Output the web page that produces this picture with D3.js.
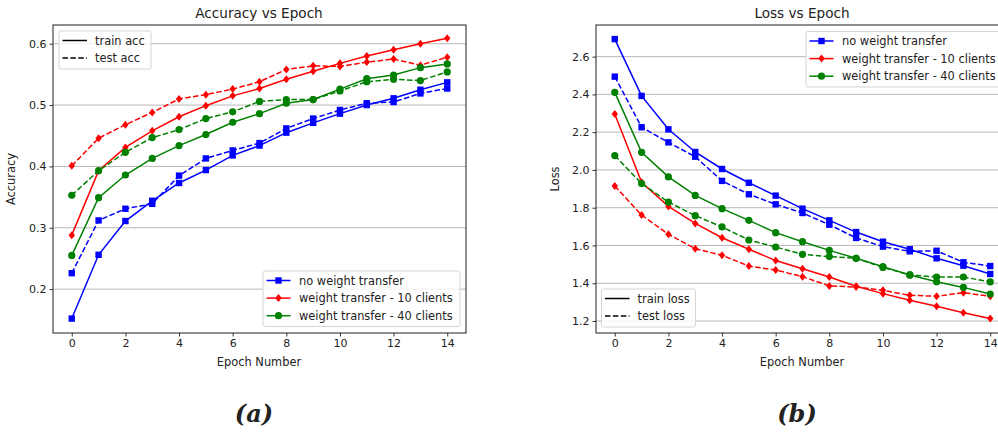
<!DOCTYPE html>
<html>
<head>
<meta charset="utf-8">
<script src="https://cdn.jsdelivr.net/npm/d3@7"></script>
<style>
  body { margin: 0; background: #fff; }
  text { font-family: "DejaVu Sans", sans-serif; fill: #222; }
</style>
</head>
<body>
<div id="chart"></div>
<script>
var epochs = [0, 1, 2, 3, 4, 5, 6, 7, 8, 9, 10, 11, 12, 13, 14];
var seriesNames = ["no weight transfer", "weight transfer - 10 clients", "weight transfer - 40 clients"];
var seriesColors = ["#0000ff", "#ff0000", "#008000"];
var seriesMarkers = ["square", "diamond", "circle"];

// accuracy, left panel
var accTrainNo = [0.152, 0.256, 0.311, 0.344, 0.373, 0.394, 0.418, 0.434, 0.455, 0.471, 0.486, 0.500, 0.511, 0.525, 0.537];
var accTestNo = [0.226, 0.312, 0.331, 0.339, 0.385, 0.413, 0.426, 0.438, 0.462, 0.478, 0.492, 0.503, 0.505, 0.519, 0.527];
var accTrain10 = [0.288, 0.393, 0.431, 0.458, 0.481, 0.499, 0.515, 0.527, 0.542, 0.555, 0.568, 0.580, 0.590, 0.600, 0.609];
var accTest10 = [0.401, 0.446, 0.468, 0.488, 0.510, 0.517, 0.526, 0.538, 0.558, 0.564, 0.563, 0.570, 0.575, 0.565, 0.578];
var accTrain40 = [0.255, 0.349, 0.386, 0.413, 0.434, 0.452, 0.472, 0.486, 0.503, 0.509, 0.526, 0.543, 0.549, 0.561, 0.567];
var accTest40 = [0.353, 0.393, 0.423, 0.447, 0.460, 0.478, 0.489, 0.506, 0.509, 0.509, 0.523, 0.538, 0.542, 0.540, 0.554];
var accTicks = [0.2, 0.3, 0.4, 0.5, 0.6];

// loss, right panel
var lossTrainNo = [2.693, 2.392, 2.215, 2.095, 2.005, 1.932, 1.864, 1.795, 1.733, 1.671, 1.620, 1.580, 1.532, 1.493, 1.449];
var lossTestNo = [2.494, 2.226, 2.146, 2.070, 1.942, 1.871, 1.818, 1.772, 1.710, 1.640, 1.594, 1.569, 1.572, 1.511, 1.491];
var lossTrain10 = [2.296, 1.935, 1.807, 1.717, 1.641, 1.580, 1.520, 1.477, 1.433, 1.384, 1.345, 1.310, 1.278, 1.244, 1.213];
var lossTest10 = [1.915, 1.761, 1.659, 1.583, 1.548, 1.491, 1.470, 1.435, 1.386, 1.380, 1.363, 1.336, 1.331, 1.350, 1.331];
var lossTrain40 = [2.411, 2.093, 1.963, 1.865, 1.795, 1.733, 1.668, 1.620, 1.574, 1.532, 1.488, 1.444, 1.408, 1.378, 1.343];
var lossTest40 = [2.076, 1.928, 1.830, 1.758, 1.698, 1.629, 1.592, 1.553, 1.541, 1.532, 1.484, 1.444, 1.433, 1.433, 1.407];
var lossTicks = [1.2, 1.4, 1.6, 1.8, 2.0, 2.2, 2.4, 2.6];

var xTicks = [0, 2, 4, 6, 8, 10, 12, 14];

var W = 998, H = 436;
var svg = d3.select("#chart").append("svg")
    .attr("width", W).attr("height", H)
    .style("display", "block");
svg.append("rect").attr("width", W).attr("height", H).attr("fill", "#fff");

var dash = "5.5,2.4";
var fs = "11.4px";

function marker(g, type, x, y, color) {
    if (type == "square") {
        g.append("rect").attr("x", x - 3.2).attr("y", y - 3.2)
            .attr("width", 6.4).attr("height", 6.4).attr("fill", color);
    } else if (type == "diamond") {
        g.append("path").attr("d", "M" + x + "," + (y - 4) + "L" + (x + 3.2) + "," + y +
            "L" + x + "," + (y + 4) + "L" + (x - 3.2) + "," + y + "Z").attr("fill", color);
    } else {
        g.append("circle").attr("cx", x).attr("cy", y).attr("r", 3.6).attr("fill", color);
    }
}

function drawPanel(opt) {
    var x = d3.scaleLinear().domain([-0.7, 14.7]).range([opt.left, opt.left + opt.width]);
    var y = d3.scaleLinear().domain(opt.ydomain).range([opt.top + opt.height, opt.top]);
    var g = svg.append("g");

    // grid
    g.selectAll(".grid").data(opt.yticks).enter().append("line")
        .attr("x1", opt.left).attr("x2", opt.left + opt.width)
        .attr("y1", function (d) { return y(d); }).attr("y2", function (d) { return y(d); })
        .attr("stroke", "#b0b0b0").attr("stroke-width", 0.9);

    var line = d3.line().x(function (d, i) { return x(epochs[i]); }).y(function (d) { return y(d); });

    // draw test then train, series in order
    opt.series.forEach(function (s, k) {
        [s.test, s.train].forEach(function (vals, j) {
            g.append("path").datum(vals).attr("d", line)
                .attr("fill", "none").attr("stroke", seriesColors[k])
                .attr("stroke-width", 1.5)
                .attr("stroke-dasharray", j == 0 ? dash : null);
            vals.forEach(function (v, i) {
                marker(g, seriesMarkers[k], x(epochs[i]), y(v), seriesColors[k]);
            });
        });
    });

    // frame
    g.append("rect").attr("x", opt.left).attr("y", opt.top)
        .attr("width", opt.width).attr("height", opt.height)
        .attr("fill", "none").attr("stroke", "#333").attr("stroke-width", 1.1);

    // axes
    var xa = g.append("g").attr("transform", "translate(0," + (opt.top + opt.height) + ")")
        .call(d3.axisBottom(x).tickValues(xTicks).tickSize(3.5).tickPadding(3).tickFormat(d3.format("d")));
    var ya = g.append("g").attr("transform", "translate(" + opt.left + ",0)")
        .call(d3.axisLeft(y).tickValues(opt.yticks).tickSize(3.5).tickPadding(3).tickFormat(d3.format(".1f")));
    [xa, ya].forEach(function (a) {
        a.select(".domain").remove();
        a.selectAll("line").attr("stroke", "#333");
        a.selectAll("text").attr("font-size", "11px").attr("fill", "#222")
            .style("font-family", "DejaVu Sans");
    });

    g.append("text").attr("x", opt.titleX).attr("y", 18)
        .attr("text-anchor", "middle").attr("font-size", "13.6px").text(opt.title);
    g.append("text").attr("x", opt.titleX).attr("y", 366)
        .attr("text-anchor", "middle").attr("font-size", fs).text("Epoch Number");
    g.append("text").attr("transform", "translate(" + opt.ylabelX + "," + (opt.top + opt.height / 2) + ") rotate(-90)")
        .attr("text-anchor", "middle").attr("font-size", fs).text(opt.ylabel);

    // style legend
    var sl = opt.styleLegend;
    g.append("rect").attr("x", sl.x).attr("y", sl.y).attr("width", sl.w).attr("height", 38)
        .attr("rx", 2).attr("fill", "#fff").attr("fill-opacity", 0.8)
        .attr("stroke", "#d0d0d0").attr("stroke-width", 0.9);
    sl.labels.forEach(function (lab, i) {
        var yy = sl.y + 9.5 + i * 17.5;
        g.append("line").attr("x1", sl.x + 3.5).attr("x2", sl.x + 28).attr("y1", yy).attr("y2", yy)
            .attr("stroke", "#000").attr("stroke-width", 1.5)
            .attr("stroke-dasharray", i == 1 ? dash : null);
        g.append("text").attr("x", sl.x + 36).attr("y", yy + 4)
            .attr("font-size", fs).text(lab);
    });

    // series legend
    var ml = opt.seriesLegend;
    g.append("rect").attr("x", ml.x).attr("y", ml.y).attr("width", ml.w).attr("height", 55.5)
        .attr("rx", 2).attr("fill", "#fff").attr("fill-opacity", 0.8)
        .attr("stroke", "#d0d0d0").attr("stroke-width", 0.9);
    seriesNames.forEach(function (name, k) {
        var yy = ml.y + 9.5 + k * 17.6;
        g.append("line").attr("x1", ml.x + 3.5).attr("x2", ml.x + 27.5).attr("y1", yy).attr("y2", yy)
            .attr("stroke", seriesColors[k]).attr("stroke-width", 1.5);
        marker(g, seriesMarkers[k], ml.x + 15.5, yy, seriesColors[k]);
        g.append("text").attr("x", ml.x + 36).attr("y", yy + 4)
            .attr("font-size", fs).text(name);
    });
}

drawPanel({
    left: 53, top: 25, width: 413, height: 308,
    ydomain: [0.1285, 0.6305], yticks: accTicks,
    title: "Accuracy vs Epoch", titleX: 259, ylabel: "Accuracy", ylabelX: 15,
    series: [
        { train: accTrainNo, test: accTestNo },
        { train: accTrain10, test: accTest10 },
        { train: accTrain40, test: accTest40 }
    ],
    styleLegend: { x: 59, y: 31, w: 92, labels: ["train acc", "test acc"] },
    seriesLegend: { x: 263, y: 271, w: 197 }
});

drawPanel({
    left: 596, top: 25, width: 413, height: 308,
    ydomain: [1.1365, 2.7675], yticks: lossTicks,
    title: "Loss vs Epoch", titleX: 802, ylabel: "Loss", ylabelX: 559,
    series: [
        { train: lossTrainNo, test: lossTestNo },
        { train: lossTrain10, test: lossTest10 },
        { train: lossTrain40, test: lossTest40 }
    ],
    styleLegend: { x: 601.5, y: 289, w: 94, labels: ["train loss", "test loss"] },
    seriesLegend: { x: 806, y: 31.5, w: 197 }
});

// panel captions
svg.append("text").attr("x", 254).attr("y", 422).attr("text-anchor", "middle")
    .style("font-family", "DejaVu Serif").attr("font-style", "italic").attr("font-weight", "bold")
    .attr("font-size", "24px").attr("fill", "#000").text("(a)");
svg.append("text").attr("x", 797).attr("y", 422).attr("text-anchor", "middle")
    .style("font-family", "DejaVu Serif").attr("font-style", "italic").attr("font-weight", "bold")
    .attr("font-size", "24px").attr("fill", "#000").text("(b)");
</script>
</body>
</html>
